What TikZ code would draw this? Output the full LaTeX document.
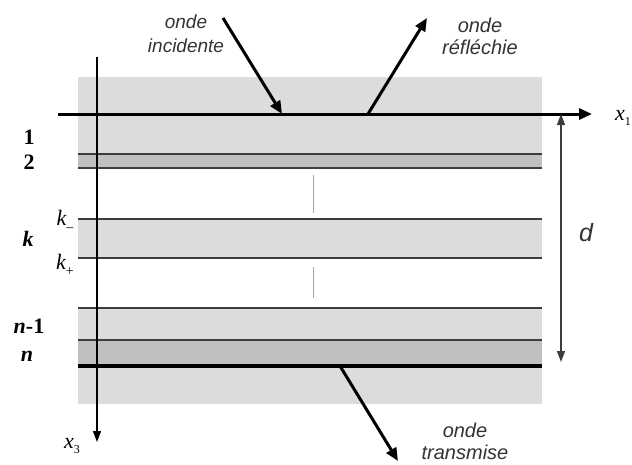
\documentclass[tikz,border=0pt]{standalone}
\usepackage{fontspec}
\setmainfont{Liberation Serif}
\setsansfont{Liberation Sans}
\usetikzlibrary{arrows.meta}
\definecolor{lightlayer}{RGB}{220,220,220}
\definecolor{darklayer}{RGB}{192,192,192}
\definecolor{linegray}{RGB}{60,60,60}
\tikzset{
  lightfill/.style={fill=lightlayer},
  darkfill/.style={fill=darklayer},
  iface/.style={draw=linegray, line width=1.3pt},
  bigarrow/.style={line width=3pt, -{Triangle[length=13pt,width=11pt]}},
  thinarrow/.style={line width=1.3pt, -{Triangle[length=11pt,width=8pt]}},
  wavelabel/.style={font=\sffamily\itshape\fontsize{20}{22}\selectfont, align=center, text=black!80},
  laylabel/.style={font=\bfseries\fontsize{22}{22}\selectfont},
  italabel/.style={font=\itshape\fontsize{22}{22}\selectfont},
  dots/.style={draw=gray!70, line width=0.8pt}
}
\begin{document}
\begin{tikzpicture}[x=1pt,y=-1pt]
\useasboundingbox (0,0) rectangle (632,464);
% layers
\fill[lightfill] (78,77) rectangle (542,154);
\fill[darkfill] (78,154) rectangle (542,168);
\fill[lightfill] (78,219) rectangle (542,258);
\fill[lightfill] (78,308) rectangle (542,340);
\fill[darkfill] (78,340) rectangle (542,366);
\fill[lightfill] (78,366) rectangle (542,404);
% interfaces
\foreach \yy in {154,168,219,258,308,340}
  \draw[iface] (78,\yy) -- (542,\yy);
\draw[line width=3.5pt] (78,366) -- (542,366);
% dotted continuation
\draw[dots] (313,175) -- (313,213);
\draw[dots] (313,267) -- (313,298);
% axes
\coordinate (x1s) at (58,114);
\coordinate (x1e) at (592,114);
\draw[bigarrow] (x1s) -- (x1e);
\coordinate (x3s) at (97,57);
\coordinate (x3e) at (97,442);
\draw[thinarrow] (x3s) -- (x3e);
% thickness d
\coordinate (dtop) at (561,114);
\coordinate (dbot) at (561,362);
\draw[line width=1.3pt, draw=linegray, {Triangle[length=11pt,width=8pt]}-{Triangle[length=11pt,width=8pt]}] (dtop) -- (dbot);
\node[font=\sffamily\itshape\fontsize{25}{25}\selectfont, text=black!80] (d) at (586,233) {d};
% waves
\coordinate (incS) at (223,18);
\coordinate (incE) at (282,114);
\draw[bigarrow] (incS) -- (incE);
\coordinate (refS) at (368,114);
\coordinate (refE) at (427,18);
\draw[bigarrow] (refS) -- (refE);
\coordinate (trS) at (340,366);
\coordinate (trE) at (398,461);
\draw[bigarrow] (trS) -- (trE);
\node[wavelabel, font=\sffamily\itshape\fontsize{19}{24}\selectfont] (inc) at (186,34) {onde\\incidente};
\node[wavelabel] (ref) at (480,36) {onde\\réfléchie};
\node[wavelabel] (tr) at (465,441) {onde\\transmise};
% layer labels
\node[laylabel] (l1) at (29,137) {1};
\node[laylabel] (l2) at (29,162) {2};
\node[laylabel, font=\bfseries\itshape\fontsize{22}{22}\selectfont] (lk) at (28,239) {k};
\node[laylabel] (ln1) at (29,326) {\textit{n}-1};
\node[laylabel] (ln) at (27,356) {\textit{n}};
\node[italabel] (km) at (65,221) {k\raisebox{-6pt}{\upshape\fontsize{14}{14}\selectfont –}};
\node[italabel] (kp) at (65,265) {k\raisebox{-6pt}{\upshape\fontsize{14}{14}\selectfont +}};
% axis labels
\node[italabel] (lx1) at (623,118) {x\raisebox{-5pt}{\upshape\fontsize{12}{12}\selectfont 1}};
\node[italabel] (lx3) at (72,446) {x\raisebox{-5pt}{\upshape\fontsize{12}{12}\selectfont 3}};
\end{tikzpicture}
\end{document}
